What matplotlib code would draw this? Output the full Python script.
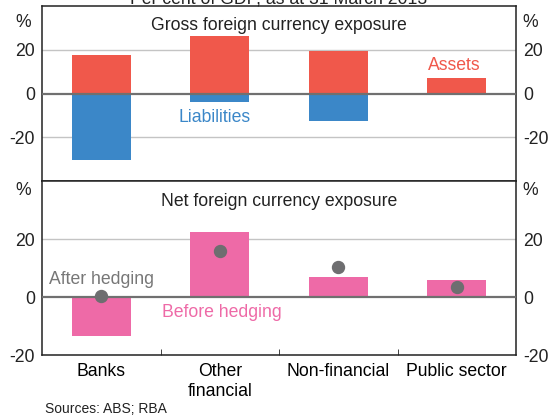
import numpy as np
import matplotlib
matplotlib.use("Agg")
import matplotlib.pyplot as plt

# data (per cent of GDP)
sectors = ["Banks", "Other\nfinancial", "Non-financial", "Public sector"]
assets = [17.7, 26.5, 19.5, 7.3]
liabilities = [-30.4, -4.1, -12.7, -0.8]
before_hedging = [-13.4, 22.5, 6.9, 5.9]
after_hedging = [0.4, 16.0, 10.4, 3.5]

RED = "#F0584B"
BLUE = "#3B87C8"
PINK = "#EE6AA7"
DOT = "#6E6E70"
GRID = "#C4C4C4"
ZERO = "#707070"
FRAME = "#222222"

plt.rcParams["font.family"] = ["Liberation Sans", "DejaVu Sans"]
plt.rcParams["font.size"] = 12.7
plt.rcParams["text.color"] = "#222222"
plt.rcParams["axes.unicode_minus"] = False

W, H = 559, 417
fig = plt.figure(figsize=(W / 100, H / 100), dpi=100)


def px_axes(left, top, right, bottom):
    return fig.add_axes([left / W, (H - bottom) / H, (right - left) / W, (bottom - top) / H])


ax1 = px_axes(42, 6, 516, 181)
ax2 = px_axes(42, 181, 516, 355)

x = np.arange(len(sectors))

for ax, lo, hi, ticks in [(ax1, -40, 40, [-20, 0, 20]), (ax2, -20, 40, [-20, 0, 20])]:
    ax.set_xlim(-0.5, len(sectors) - 0.5)
    ax.set_ylim(lo, hi)
    ax.set_yticks(ticks)
    ax.yaxis.set_tick_params(labelleft=True, labelright=True, length=0, pad=5,
                             labelcolor="#222222")
    for t in ticks:
        if t == 0:
            ax.axhline(0, color=ZERO, lw=1.6, zorder=3)
        elif lo < t < hi:
            ax.axhline(t, color=GRID, lw=1.0, zorder=0)
    for s in ax.spines.values():
        s.set_color(FRAME)
        s.set_linewidth(1.1)

# "%" unit labels on both sides
ax1.text(-0.04, 0.955, "%", transform=ax1.transAxes, ha="center", va="top")
ax1.text(1.03, 0.955, "%", transform=ax1.transAxes, ha="center", va="top")
ax2.text(-0.04, 0.995, "%", transform=ax2.transAxes, ha="center", va="top")
ax2.text(1.03, 0.995, "%", transform=ax2.transAxes, ha="center", va="top")

# top panel: gross exposure
ax1.bar(x, assets, width=0.5, color=RED, zorder=2)
ax1.bar(x, liabilities, width=0.5, color=BLUE, zorder=2)
ax1.set_xticks([])
ax1.text(0.5, 0.935, "Gross foreign currency exposure", transform=ax1.transAxes,
         ha="center", va="top")
ax1.text(2.98, 12.8, "Assets", color=RED, ha="center", va="center")
ax1.text(0.96, -11, "Liabilities", color=BLUE, ha="center", va="center")

# bottom panel: net exposure
ax2.bar(x, before_hedging, width=0.5, color=PINK, zorder=2)
ax2.plot(x, after_hedging, "o", color=DOT, ms=8.6, zorder=4)
ax2.set_xticks(x)
ax2.set_xticklabels(sectors)
ax2.set_xticks(np.arange(0.5, len(sectors) - 1), minor=True)
ax2.tick_params(axis="x", which="major", length=0, pad=6)
ax2.tick_params(axis="x", which="minor", direction="in", length=4, color=FRAME)
ax2.text(0.5, 0.93, "Net foreign currency exposure", transform=ax2.transAxes,
         ha="center", va="top")
ax2.text(0.0, 5.9, "After hedging", color="#777777", ha="center", va="center")
ax2.text(1.02, -5.2, "Before hedging", color=PINK, ha="center", va="center")

# title is cropped at the top edge in the reference
fig.text(279 / W, (H - 3) / H, "Per cent of GDP, as at 31 March 2013",
         ha="center", va="baseline")
fig.text(45 / W, (H - 409) / H, "Sources: ABS; RBA", fontsize=10,
         ha="left", va="center")

fig.savefig("out.png", dpi=100)
